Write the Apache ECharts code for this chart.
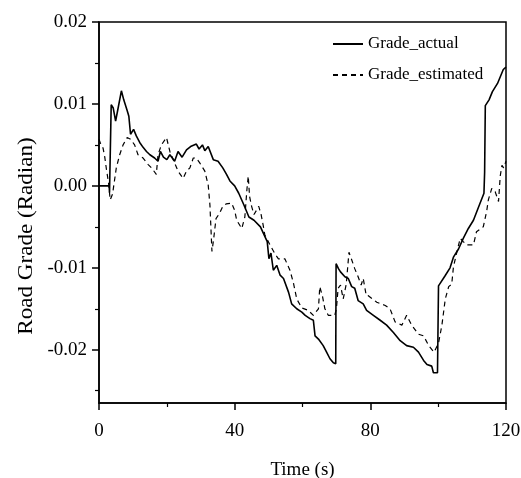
<!DOCTYPE html>
<html>
<head>
<meta charset="utf-8">
<script src="https://cdn.jsdelivr.net/npm/echarts@6/dist/echarts.min.js"></script>
<style>html,body{margin:0;padding:0;background:#fff;}#c{width:521px;height:478px;}</style>
</head>
<body>
<div id="c"></div>
<script>
const seriesNames = ['Grade_actual', 'Grade_estimated'];
const xTicks = [0, 40, 80, 120];
const yTickLabels = [-0.02, -0.01, 0, 0.01, 0.02];
const yMinorTicks = [-0.025, -0.015, -0.005, 0.005, 0.015];
const xTitle = 'Time (s)';
const yTitle = 'Road Grade (Radian)';

const actualT = [0,3.0,3.1,3.6,4.2,4.9,5.5,6.6,7.3,8.3,8.8,9.3,10.2,11,12,13,14,15,16.4,17.4,18.1,19,20,20.9,22.3,23.3,24.5,25.8,27,28.7,29.5,30.5,31.2,32.2,33.7,35.1,36.5,37.6,38.6,40,41.2,42.7,44.2,45.7,47.6,49.6,50.1,50.7,51.4,52.4,53.4,54.4,55.9,56.8,58.3,59.8,60.8,62.2,63.2,63.7,64.7,66.1,67.1,68.1,69.1,69.8,69.9,70.6,71.2,72.5,73.5,74.5,75.4,76.4,77.9,78.9,80.9,82.9,84.8,86.8,88.8,90.7,92.7,94.2,95.7,96.7,98.1,98.6,99.8,100.1,102,103.5,104.5,106,107.4,108.9,110.4,111.8,113.5,113.7,113.9,115,116,117.5,118.5,119.2,120];
const actualG = [0,0,-0.0008,0.0099,0.0095,0.0079,0.0092,0.0116,0.0105,0.0092,0.0085,0.0063,0.0069,0.0061,0.0053,0.0047,0.0042,0.0038,0.0034,0.003,0.0042,0.0035,0.0032,0.0038,0.003,0.0042,0.0035,0.0044,0.0048,0.0051,0.0045,0.005,0.0043,0.0048,0.0032,0.003,0.0022,0.0014,0.0006,0,-0.0009,-0.0023,-0.0038,-0.0042,-0.005,-0.0068,-0.0089,-0.0082,-0.0103,-0.0097,-0.0109,-0.0113,-0.013,-0.0144,-0.015,-0.0154,-0.0158,-0.0162,-0.0164,-0.0183,-0.0187,-0.0195,-0.0203,-0.0211,-0.0216,-0.0217,-0.0095,-0.0101,-0.0105,-0.0111,-0.0113,-0.0123,-0.0125,-0.014,-0.0144,-0.0152,-0.0158,-0.0164,-0.017,-0.0179,-0.0189,-0.0195,-0.0197,-0.0203,-0.0213,-0.0218,-0.022,-0.0228,-0.0228,-0.0122,-0.011,-0.01,-0.0087,-0.0077,-0.0064,-0.0052,-0.0042,-0.0027,-0.0009,0.0017,0.0098,0.0105,0.0115,0.0125,0.0135,0.0142,0.0145];

const estT = [0,0.6,1.2,1.7,2.2,2.8,3.3,4.0,5.1,6.1,7.1,8.3,9.3,10.5,11.5,13,14.5,15.5,16.9,17.4,18.4,19.9,20.9,22.3,23.3,24.8,25.8,26.8,27.8,28.7,29.7,31.2,32.2,32.7,33.3,33.8,34.5,35.6,36.5,37.5,39.1,40.0,40.6,42.1,43,43.6,44,44.4,45.0,45.7,47.1,47.8,48.4,48.9,50.4,51.9,52.9,54.8,56.3,57.3,58.3,59.8,61.7,63.2,64.7,65.1,65.9,66.6,67.6,69.5,70,70.5,71.2,72,72.9,73.7,74.4,75.4,76.4,77.3,77.9,78.8,79.4,81.9,84.4,85.8,87.3,89.3,90.7,92.2,94.2,95.7,97.2,98.8,100.1,101.1,102.1,103.1,104,104.5,105.5,106.5,107.4,108.4,110.4,111.3,113.3,114.3,114.8,115.8,116.8,117.8,118.3,118.8,119.3,120];
const estG = [0.0057,0.005,0.0046,0.0035,0.002,0.0004,-0.0017,-0.001,0.0022,0.0038,0.005,0.0059,0.0057,0.005,0.0038,0.0034,0.0026,0.0022,0.0014,0.0038,0.005,0.0059,0.0042,0.0028,0.0018,0.0009,0.0018,0.0022,0.0034,0.0034,0.0028,0.0018,0.0001,-0.0023,-0.008,-0.0065,-0.004,-0.0033,-0.0025,-0.0022,-0.0021,-0.003,-0.0042,-0.0052,-0.0038,-0.0005,0.0012,-0.0013,-0.0025,-0.0035,-0.0025,-0.0035,-0.0048,-0.006,-0.0072,-0.0083,-0.0089,-0.0089,-0.0103,-0.0118,-0.0138,-0.0149,-0.0152,-0.0158,-0.015,-0.0123,-0.0135,-0.015,-0.0158,-0.0158,-0.015,-0.0125,-0.0121,-0.0138,-0.012,-0.0081,-0.0089,-0.0101,-0.0111,-0.0121,-0.0113,-0.0134,-0.0134,-0.0142,-0.0146,-0.015,-0.0166,-0.017,-0.0158,-0.017,-0.0181,-0.0183,-0.0195,-0.0203,-0.0192,-0.017,-0.0138,-0.0123,-0.012,-0.0099,-0.0081,-0.0064,-0.0068,-0.0072,-0.0072,-0.0056,-0.005,-0.0031,-0.0017,-0.0003,-0.0007,-0.0019,0.0012,0.0025,0.0022,0.003];

const FONT = '"Liberation Serif", "Times New Roman", serif';
const chart = echarts.init(document.getElementById('c'), null, {renderer: 'canvas'});
const Y_MIN = -0.0265, Y_MAX = 0.02;

chart.setOption({
  animation: false,
  backgroundColor: '#fff',
  textStyle: {fontFamily: FONT, color: '#000'},
  grid: {left: 99, right: 15, top: 22, bottom: 75, show: true, borderColor: '#000', borderWidth: 1.5, outerBoundsMode: 'none'},
  legend: {
    orient: 'vertical', left: 332, top: 34, padding: 0, itemWidth: 30, itemHeight: 14, itemGap: 11,
    itemStyle: {opacity: 0},
    textStyle: {fontFamily: FONT, fontSize: 17, color: '#000', lineHeight: 20},
    data: seriesNames
  },
  graphic: [{
    type: 'text', x: 26, y: 236, rotation: Math.PI / 2, scaleX: 1.1,
    style: {text: yTitle, font: '21px ' + FONT, fill: '#000', align: 'center', verticalAlign: 'middle'}
  }],
  xAxis: {
    type: 'value', min: xTicks[0], max: xTicks[xTicks.length - 1], interval: 40,
    name: xTitle, nameLocation: 'middle', nameGap: 58,
    nameTextStyle: {fontFamily: FONT, fontSize: 19, color: '#000'},
    axisLine: {onZero: false, lineStyle: {color: '#000', width: 1.5}},
    axisTick: {show: true, inside: false, length: 7, lineStyle: {color: '#000', width: 1.5}},
    minorTick: {show: true, splitNumber: 2, length: 4, lineStyle: {color: '#000', width: 1.2}},
    axisLabel: {fontFamily: FONT, fontSize: 19, color: '#000', margin: 19},
    splitLine: {show: false}
  },
  yAxis: [{
    type: 'value', min: Y_MIN, max: Y_MAX,
    axisLine: {show: true, onZero: false, lineStyle: {color: '#000', width: 1.5}},
    axisTick: {show: true, length: 7, customValues: yTickLabels, lineStyle: {color: '#000', width: 1.5}},
    axisLabel: {fontFamily: FONT, fontSize: 19, color: '#000', margin: 12, customValues: yTickLabels,
      formatter: v => (Math.abs(v) < 1e-9 ? 0 : v).toFixed(2)},
    splitLine: {show: false}
  }, {
    type: 'value', min: Y_MIN, max: Y_MAX, position: 'left', offset: 0,
    axisLine: {show: false, onZero: false},
    axisTick: {show: true, length: 4, customValues: yMinorTicks, lineStyle: {color: '#000', width: 1.2}},
    axisLabel: {show: false, customValues: yMinorTicks},
    splitLine: {show: false}
  }],
  series: [{
    name: seriesNames[0], type: 'line', symbol: 'none', yAxisIndex: 0,
    data: actualT.map((t, i) => [t, actualG[i]]),
    lineStyle: {color: '#000', width: 1.6, type: 'solid'}, itemStyle: {color: '#000'}
  }, {
    name: seriesNames[1], type: 'line', symbol: 'none', yAxisIndex: 0,
    data: estT.map((t, i) => [t, estG[i]]),
    lineStyle: {color: '#000', width: 1.2, type: [5, 4]}, itemStyle: {color: '#000'}
  }]
});
</script>
</body>
</html>
